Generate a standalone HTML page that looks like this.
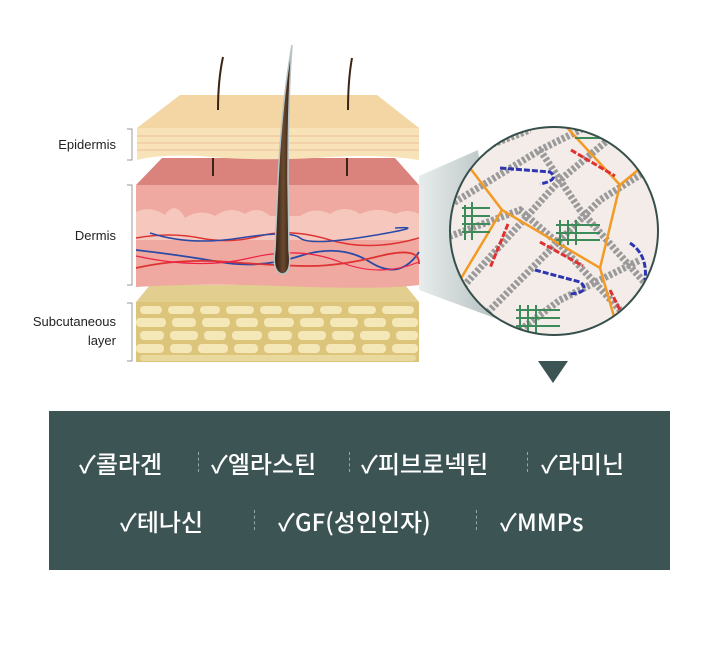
<!DOCTYPE html>
<html><head><meta charset="utf-8"><style>
html,body{margin:0;padding:0;background:#fff;}
body{width:720px;height:656px;position:relative;overflow:hidden;font-family:"Liberation Sans","Noto Sans CJK KR",sans-serif;}
.lbl{position:absolute;font-size:13px;color:#222;text-align:right;width:110px;left:6px;line-height:19px;}
.box{position:absolute;left:49px;top:411px;width:621px;height:159px;background:#3c5453;color:#fff;font-family:"Noto Sans CJK KR","Liberation Sans",sans-serif;font-size:24px;font-weight:500;}
.row{position:absolute;white-space:nowrap;}
.sep{position:absolute;width:0;border-left:1px dashed #9aa8a7;height:20px;}
</style></head><body>
<svg width="720" height="656" style="position:absolute;left:0;top:0">
<defs>
<linearGradient id="cone" x1="0" x2="1"><stop offset="0" stop-color="#e8ecec"/><stop offset="1" stop-color="#b3bfbf"/></linearGradient>
<linearGradient id="hair" x1="0" x2="1"><stop offset="0" stop-color="#2a1a10"/><stop offset="0.5" stop-color="#6b4a2e"/><stop offset="1" stop-color="#2a1a10"/></linearGradient>
<clipPath id="cc"><circle cx="554" cy="231" r="104"/></clipPath>
</defs>
<polygon points="419,176 478,150 500,320 419,290" fill="url(#cone)"/>
<polygon points="150,285 405,285 419,302 136,302" fill="#e2cf8f"/>
<rect x="136" y="302" width="283" height="60" fill="#dcc47a"/>
<g fill="#f4e7b8">
<rect x="140" y="306" width="22" height="8" rx="4"/><rect x="168" y="306" width="26" height="8" rx="4"/><rect x="200" y="306" width="20" height="8" rx="4"/><rect x="226" y="306" width="28" height="8" rx="4"/><rect x="260" y="306" width="22" height="8" rx="4"/><rect x="288" y="306" width="26" height="8" rx="4"/><rect x="320" y="306" width="22" height="8" rx="4"/><rect x="348" y="306" width="28" height="8" rx="4"/><rect x="382" y="306" width="32" height="8" rx="4"/>
<rect x="136" y="318" width="30" height="9" rx="4"/><rect x="172" y="318" width="24" height="9" rx="4"/><rect x="202" y="318" width="28" height="9" rx="4"/><rect x="236" y="318" width="22" height="9" rx="4"/><rect x="264" y="318" width="30" height="9" rx="4"/><rect x="300" y="318" width="24" height="9" rx="4"/><rect x="330" y="318" width="28" height="9" rx="4"/><rect x="364" y="318" width="22" height="9" rx="4"/><rect x="392" y="318" width="26" height="9" rx="4"/>
<rect x="140" y="331" width="24" height="9" rx="4"/><rect x="170" y="331" width="28" height="9" rx="4"/><rect x="204" y="331" width="22" height="9" rx="4"/><rect x="232" y="331" width="30" height="9" rx="4"/><rect x="268" y="331" width="24" height="9" rx="4"/><rect x="298" y="331" width="28" height="9" rx="4"/><rect x="332" y="331" width="22" height="9" rx="4"/><rect x="360" y="331" width="30" height="9" rx="4"/><rect x="396" y="331" width="22" height="9" rx="4"/>
<rect x="136" y="344" width="28" height="9" rx="4"/><rect x="170" y="344" width="22" height="9" rx="4"/><rect x="198" y="344" width="30" height="9" rx="4"/><rect x="234" y="344" width="24" height="9" rx="4"/><rect x="264" y="344" width="28" height="9" rx="4"/><rect x="298" y="344" width="22" height="9" rx="4"/><rect x="326" y="344" width="30" height="9" rx="4"/><rect x="362" y="344" width="24" height="9" rx="4"/><rect x="392" y="344" width="26" height="9" rx="4"/>
<rect x="140" y="355" width="276" height="6" rx="3" opacity="0.6"/>
</g>
<polygon points="162,158 395,158 419,185 136,185" fill="#d9837c"/>
<path d="M136,185 H419 V285 Q380,290 280,286 Q200,283 136,287 Z" fill="#f0a9a0"/>
<path d="M136,212 Q150,205 165,215 Q175,200 185,218 Q200,208 215,216 Q230,205 245,214 Q258,205 270,216 L300,216 Q315,206 330,214 Q345,204 360,214 Q378,206 395,214 Q408,208 419,214 V240 H136 Z" fill="#f6c8bd"/>
<path d="M136,238 Q170,232 200,238 T260,236 T330,240 T419,238" stroke="#d33" stroke-width="1.5" fill="none"/>
<path d="M150,233 Q190,246 240,238 T300,238 T370,236 T395,228" stroke="#2a4aa8" stroke-width="1.5" fill="none"/>
<path d="M136,250 Q180,255 220,262 T300,256 T370,262 T419,252" stroke="#2a4aa8" stroke-width="1.8" fill="none"/>
<path d="M136,268 Q180,258 230,262 T310,266 T380,256 T419,264" stroke="#d33" stroke-width="1.8" fill="none"/>
<path d="M136,256 Q200,270 250,258 T340,262 T419,262" stroke="#e24" stroke-width="1.2" fill="none"/>
<polygon points="180,95 377,95 419,128 137,128" fill="#f3d6a3"/>
<path d="M137,128 H419 V160 Q380,154 330,157 Q260,162 200,156 Q160,154 137,160 Z" fill="#f8e2b8"/>
<g stroke="#e9b58f" stroke-width="0.8" fill="none"><path d="M137,136 H419"/><path d="M137,143 H419"/><path d="M137,150 H419"/></g>
<path d="M223,57 Q218,80 218,110" stroke="#3a2414" stroke-width="2" fill="none"/>
<path d="M352,58 Q348,80 348,110" stroke="#3a2414" stroke-width="2" fill="none"/>
<path d="M213,158 V176 M347,158 V176" stroke="#3a2414" stroke-width="2"/>
<path d="M292,45 Q282,100 278,180 L275,250 Q272,272 282,274 Q292,274 289,250 L288,180 Q288,100 292,45 Z" fill="url(#hair)" stroke="#b8c4c6" stroke-width="1.5"/>
<g stroke="#999" stroke-width="1" fill="none">
<path d="M127,129 H132 V160 H127"/><path d="M127,185 H132 V285 H127"/><path d="M127,303 H132 V361 H127"/></g>
<circle cx="554" cy="231" r="104" fill="#f3ece8"/>
<g clip-path="url(#cc)">
<g stroke="#9a9a9a" stroke-width="7" fill="none" stroke-dasharray="3 2">
<path d="M450,205 L540,150 L600,120"/><path d="M460,290 L560,180 L620,130"/>
<path d="M470,330 L540,260 L600,200 L680,150"/><path d="M440,240 L520,210 L560,245 L620,310"/>
<path d="M520,330 L560,300 L640,260"/><path d="M540,150 L580,210 L660,300"/><path d="M450,160 L530,130"/>
</g>
<g stroke="#f39a24" stroke-width="2.5" fill="none">
<path d="M470,168 L502,210 L600,268 L620,185 L650,160"/><path d="M502,210 L460,280"/><path d="M560,120 L620,185"/><path d="M600,268 L615,320"/>
</g>
<g stroke="#2d36b0" stroke-width="3" fill="none" stroke-dasharray="6 2"><path d="M500,168 L550,172 Q560,180 540,184"/><path d="M535,270 L580,282 Q592,292 570,294"/><path d="M630,243 Q648,255 645,280"/></g>
<g stroke="#e03030" stroke-width="3" fill="none" stroke-dasharray="6 2"><path d="M571,150 L615,176"/><path d="M508,224 L490,268"/><path d="M540,242 L583,266"/><path d="M610,290 L620,310"/></g>
<g stroke="#3d8a5a" stroke-width="2" fill="none">
<path d="M465,205 V240 M472,202 V240 M462,208 H490 M462,216 H490 M462,224 H490 M462,232 H490"/>
<path d="M560,220 V245 M568,220 V245 M576,220 V245 M556,225 H600 M556,233 H600 M556,240 H600"/>
<path d="M520,305 V335 M528,305 V335 M536,305 V335 M516,310 H560 M516,318 H560 M516,326 H560"/>
<path d="M575,130 H600 M575,138 H600"/>
</g>
</g>
<circle cx="554" cy="231" r="104" fill="none" stroke="#37504c" stroke-width="2"/>
<polygon points="538,361 568,361 553,383" fill="#3c5453"/>
</svg>
<div class="lbl" style="top:135px">Epidermis</div>
<div class="lbl" style="top:226px">Dermis</div>
<div class="lbl" style="top:312px">Subcutaneous<br>layer</div>
<div class="box">
<div class="row" style="left:30px;top:34px">✓콜라겐</div>
<div class="sep" style="left:149px;top:41px"></div>
<div class="row" style="left:162px;top:34px">✓엘라스틴</div>
<div class="sep" style="left:300px;top:41px"></div>
<div class="row" style="left:312px;top:34px">✓피브로넥틴</div>
<div class="sep" style="left:478px;top:41px"></div>
<div class="row" style="left:492px;top:34px">✓라미닌</div>
<div class="row" style="left:71px;top:92px">✓테나신</div>
<div class="sep" style="left:205px;top:99px"></div>
<div class="row" style="left:229px;top:92px">✓GF(성인인자)</div>
<div class="sep" style="left:427px;top:99px"></div>
<div class="row" style="left:451px;top:92px">✓MMPs</div>
</div>
</body></html>
